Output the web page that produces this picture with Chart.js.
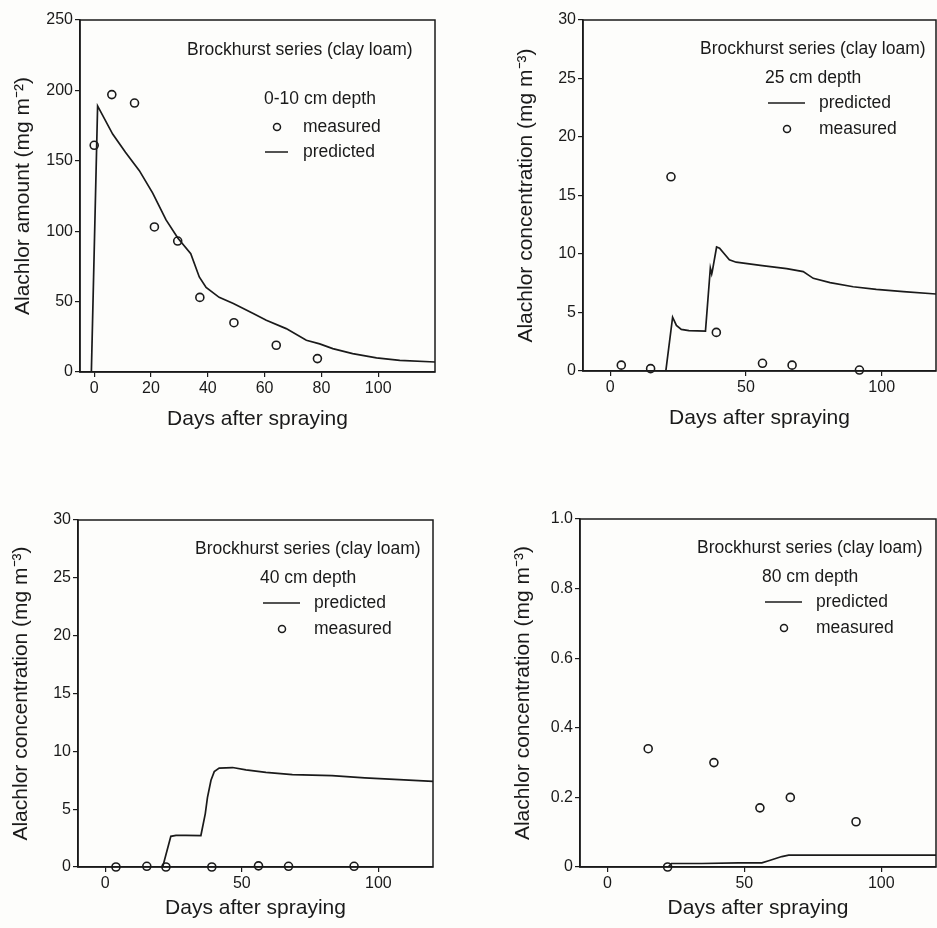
<!DOCTYPE html>
<html>
<head>
<meta charset="utf-8">
<title>Alachlor in Brockhurst clay loam</title>
<script src="https://cdn.jsdelivr.net/npm/chart.js@4.4.1/dist/chart.umd.min.js"></script>
<style>
  html, body { margin: 0; padding: 0; background: #fdfdfb; overflow: hidden; }
  body { width: 937px; height: 928px; position: relative; }
  canvas { position: absolute; }
</style>
</head>
<body>
<canvas id="c1" width="470" height="432" style="left:0px;top:0px"></canvas>
<canvas id="c2" width="434" height="431" style="left:503px;top:0px"></canvas>
<canvas id="c3" width="470" height="421" style="left:-2px;top:500px"></canvas>
<canvas id="c4" width="437" height="422" style="left:500px;top:499px"></canvas>
<script>
// ---- data ----
const soilLabel = "Brockhurst series (clay loam)";

// 0-10 cm layer, amount per area
const topDaysMeasured = [0, 6.2, 14.2, 21.2, 29.4, 37.2, 49.2, 64.1, 78.6];
const topMeasured = [161, 197, 191, 103, 93, 53, 35, 19, 9.5];
const topDaysPredicted = [-1, 1.2, 6.5, 11, 15.9, 20.6, 25.3, 29.5, 34, 37, 39.4, 44, 49, 56, 60.6, 67.6, 74.7, 79.4, 84, 91, 99.4, 107.6, 120];
const topPredicted = [0, 189, 169, 156, 143, 127, 108, 95, 84, 67.5, 60, 53, 48.6, 41.5, 36.7, 30.8, 22.5, 20, 16.6, 13, 10, 8.3, 7.1];

// 25 cm depth
const d25DaysMeasured = [4.1, 14.9, 22.4, 39.1, 56.1, 67.0, 91.8];
const d25Measured = [0.5, 0.2, 16.6, 3.3, 0.66, 0.5, 0.08];
const d25DaysPredicted = [-10, 20.5, 23, 24.4, 26.2, 29, 35.1, 36.9, 37.4, 37.6, 39.2, 40.3, 42.1, 43.9, 46.4, 56, 65, 71.1, 74.8, 81, 89.5, 98, 108, 120];
const d25Predicted = [0, 0, 4.6, 3.9, 3.56, 3.45, 3.4, 8.8, 8.3, 8.5, 10.6, 10.5, 10.0, 9.5, 9.3, 9.0, 8.75, 8.5, 7.92, 7.55, 7.2, 6.98, 6.78, 6.58];

// 40 cm depth
const d40DaysMeasured = [3.9, 15.2, 22.2, 39, 56.1, 67.1, 91.1];
const d40Measured = [0, 0.06, 0, 0, 0.1, 0.06, 0.06];
const d40DaysPredicted = [-10, 21, 24, 25.9, 29.5, 35, 36.6, 37.4, 38.7, 39.9, 41.7, 46.6, 51.5, 58.8, 68.5, 83, 95, 107.6, 120];
const d40Predicted = [0, 0, 2.65, 2.74, 2.74, 2.72, 4.6, 6.0, 7.5, 8.25, 8.55, 8.6, 8.4, 8.18, 7.98, 7.9, 7.7, 7.55, 7.4];

// 80 cm depth
const d80DaysMeasured = [14.9, 22, 38.9, 55.7, 66.8, 90.8];
const d80Measured = [0.34, 0, 0.30, 0.17, 0.20, 0.13];
const d80DaysPredicted = [-10, 22.2, 23.4, 34.4, 47.9, 56.4, 58.9, 63.7, 66.2, 83, 120];
const d80Predicted = [0, 0, 0.01, 0.01, 0.012, 0.012, 0.018, 0.03, 0.034, 0.034, 0.034];

// tick values
const amountTicks = [0, 50, 100, 150, 200, 250];
const concTicks = [0, 5, 10, 15, 20, 25, 30];
const deepTicks = [0, 0.2, 0.4, 0.6, 0.8, 1.0];
const dayTicksTop = [0, 20, 40, 60, 80, 100];
const dayTicks = [0, 50, 100];

// ---- styling ----
const ink = "#1a1a1a";
const family = '"Liberation Sans", Arial, sans-serif';
const tickFont = { family: family, size: 16 };
const titleFont = { family: family, size: 21 };

function pairs(xs, ys) {
    return xs.map((x, i) => ({ x: x, y: ys[i] }));
}

// box round the plot area
const frame = {
    id: "frame",
    afterDraw(chart) {
        const { ctx, chartArea: a } = chart;
        ctx.save();
        ctx.strokeStyle = ink;
        ctx.lineWidth = 1.5;
        ctx.strokeRect(a.left, a.top, a.right - a.left, a.bottom - a.top);
        ctx.restore();
    }
};

// soil name, depth and key drawn inside the plot
const panelKey = {
    id: "panelKey",
    afterDatasetsDraw(chart, args, o) {
        const { ctx, chartArea: a } = chart;
        const x0 = a.left, y0 = a.top;
        ctx.save();
        ctx.font = "17.5px " + family;
        ctx.fillStyle = ink;
        ctx.strokeStyle = ink;
        ctx.textBaseline = "middle";
        ctx.textAlign = "left";
        ctx.fillText(soilLabel, x0 + o.title[0], y0 + o.title[1]);
        ctx.fillText(o.depth, x0 + o.depthAt[0], y0 + o.depthAt[1]);

        ctx.lineWidth = 1.5;
        ctx.beginPath();
        ctx.moveTo(x0 + o.line[0], y0 + o.line[2]);
        ctx.lineTo(x0 + o.line[1], y0 + o.line[2]);
        ctx.stroke();
        ctx.fillText("predicted", x0 + o.textX, y0 + o.line[2]);

        ctx.beginPath();
        ctx.arc(x0 + o.dot[0], y0 + o.dot[1], 3.5, 0, Math.PI * 2);
        ctx.stroke();
        ctx.fillText("measured", x0 + o.textX, y0 + o.dot[1]);
        ctx.restore();
    }
};

function makePanel(id, p) {
    const ctx = document.getElementById(id).getContext("2d");
    return new Chart(ctx, {
        type: "scatter",
        data: {
            datasets: [
                {
                    label: "predicted",
                    data: pairs(p.predDays, p.pred),
                    showLine: true,
                    borderColor: ink,
                    borderWidth: 1.7,
                    pointRadius: 0,
                    tension: 0
                },
                {
                    label: "measured",
                    data: pairs(p.measDays, p.meas),
                    showLine: false,
                    pointStyle: "circle",
                    pointRadius: 4,
                    pointBorderWidth: 1.6,
                    pointBorderColor: ink,
                    pointBackgroundColor: "rgba(0,0,0,0)",
                    clip: false
                }
            ]
        },
        options: {
            responsive: false,
            animation: false,
            layout: { autoPadding: false, padding: { left: 0, top: 20, right: p.rightPad, bottom: 0 } },
            plugins: {
                legend: { display: false },
                tooltip: { enabled: false },
                panelKey: p.key
            },
            scales: {
                x: {
                    type: "linear",
                    min: p.xMin,
                    max: 120,
                    afterFit: s => { s.height = p.xHeight; },
                    afterBuildTicks: s => { s.ticks = p.xTicks.map(v => ({ value: v })); },
                    grid: { drawOnChartArea: false, tickLength: 5, color: ink, lineWidth: 1.2 },
                    border: { color: ink, width: 1.5 },
                    ticks: { color: ink, font: tickFont, padding: 2, maxRotation: 0 },
                    title: { display: true, text: "Days after spraying", color: ink, font: titleFont, padding: { top: 0, bottom: 0 } }
                },
                y: {
                    type: "linear",
                    min: 0,
                    max: p.yTicks[p.yTicks.length - 1],
                    afterFit: s => { s.width = 80; },
                    afterBuildTicks: s => { s.ticks = p.yTicks.map(v => ({ value: v })); },
                    grid: { drawOnChartArea: false, tickLength: 5, color: ink, lineWidth: 1.2 },
                    border: { color: ink, width: 1.5 },
                    ticks: { color: ink, font: tickFont, padding: 2, callback: p.yLabel || (v => String(v)) },
                    title: { display: true, text: p.yTitle, color: ink, font: titleFont, padding: { top: 11, bottom: 0 } }
                }
            }
        },
        plugins: [frame, panelKey]
    });
}

const concTitle = "Alachlor concentration (mg m\u207B\u00B3)";
const deepKey = { title: [117, 29], depthAt: [182, 58], line: [185, 222, 83], dot: [204, 109], textX: 236 };

// top-left panel lists measured above predicted
makePanel("c1", {
    predDays: topDaysPredicted, pred: topPredicted,
    measDays: topDaysMeasured, meas: topMeasured,
    xMin: -5, xTicks: dayTicksTop, yTicks: amountTicks,
    yTitle: "Alachlor amount (mg m\u207B\u00B2)",
    rightPad: 35, xHeight: 60,
    key: { title: [107, 30], depthAt: [184, 79], line: [185, 208, 132], dot: [197, 107], textX: 223, depth: "0-10 cm depth" }
});

makePanel("c2", {
    predDays: d25DaysPredicted, pred: d25Predicted,
    measDays: d25DaysMeasured, meas: d25Measured,
    xMin: -10, xTicks: dayTicks, yTicks: concTicks, yTitle: concTitle,
    rightPad: 1, xHeight: 60,
    key: Object.assign({ depth: "25 cm depth" }, deepKey)
});

makePanel("c3", {
    predDays: d40DaysPredicted, pred: d40Predicted,
    measDays: d40DaysMeasured, meas: d40Measured,
    xMin: -10, xTicks: dayTicks, yTicks: concTicks, yTitle: concTitle,
    rightPad: 35, xHeight: 54,
    key: Object.assign({ depth: "40 cm depth" }, deepKey)
});

makePanel("c4", {
    predDays: d80DaysPredicted, pred: d80Predicted,
    measDays: d80DaysMeasured, meas: d80Measured,
    xMin: -10, xTicks: dayTicks, yTicks: deepTicks, yTitle: concTitle,
    yLabel: v => (v === 0 ? "0" : v.toFixed(1)),
    rightPad: 1, xHeight: 54,
    key: Object.assign({ depth: "80 cm depth" }, deepKey)
});
</script>
</body>
</html>
